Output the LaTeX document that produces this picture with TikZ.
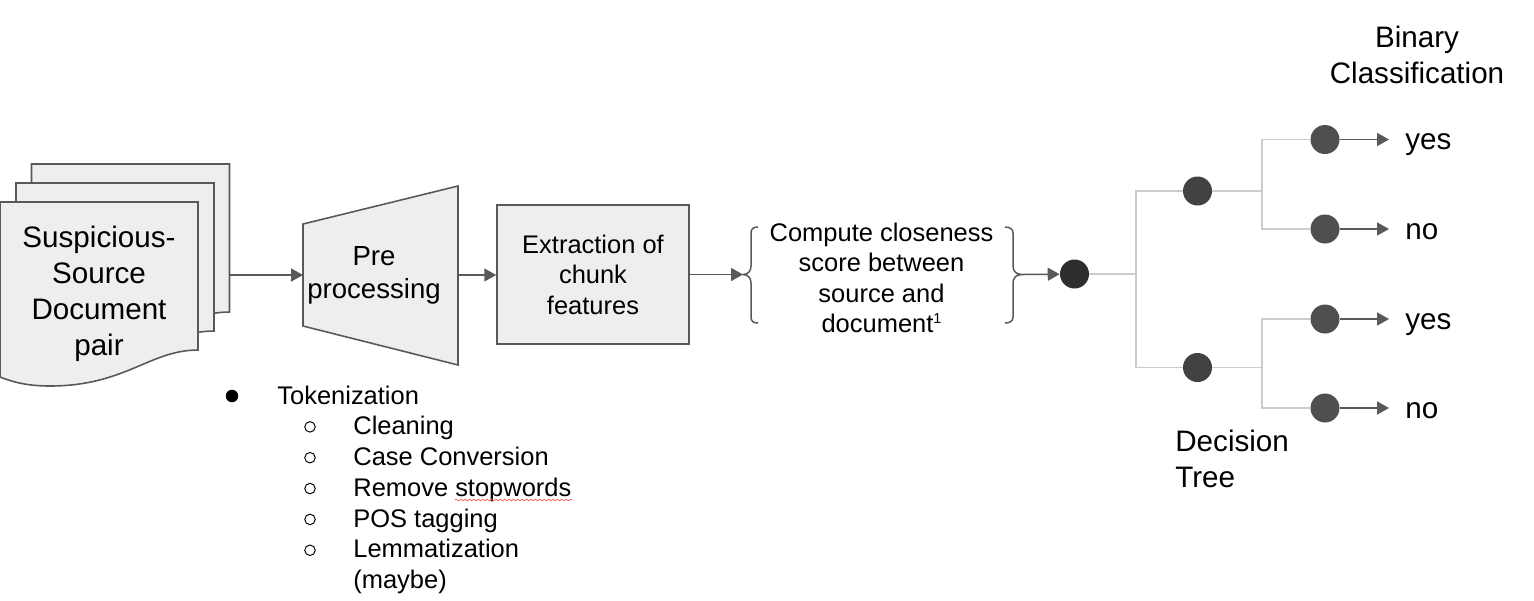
\documentclass[tikz,border=0pt]{standalone}
\usepackage{fontspec}
\setmainfont{Liberation Sans}
\usetikzlibrary{arrows.meta, positioning, decorations.pathmorphing}
\definecolor{mLine}{HTML}{595959}
\definecolor{mFill}{HTML}{EEEEEE}
\definecolor{mTree}{HTML}{CCCCCC}
\newcommand{\bigfont}{\fontsize{16.85}{20.4}\selectfont}
\newcommand{\prefont}{\fontsize{15.7}{18.7}\selectfont}
\newcommand{\smallfont}{\fontsize{14.5}{17.3}\selectfont}
\tikzset{
  shapeline/.style={draw=mLine, line width=0.9pt, fill=mFill},
  flowarrow/.style={-{Triangle[length=6.8pt, width=7.4pt]}, mLine, line width=0.85pt},
  braceline/.style={mLine, line width=0.85pt},
  treeline/.style={mTree, line width=0.9pt},
  treedot/.style={circle, inner sep=0pt, minimum size=0.58cm},
  bigtext/.style={font=\bigfont, align=center, inner sep=0pt},
  smalltext/.style={font=\smallfont, align=center, inner sep=0pt},
  listtext/.style={font=\smallfont, anchor=base west, inner sep=0pt},
}
\begin{document}
\begin{tikzpicture}[x=0.02cm, y=-0.02cm]
    \useasboundingbox (0,0) rectangle (1534,600);
    % document stack
    \foreach \px/\py in {31.5/164, 16/183, 0/202} {
      \draw[shapeline, shift={(\px,\py)}] (0,0) -- (198,0) -- (198,148)
        .. controls (150,148) and (125,184) .. (50,184)
        .. controls (30,184) and (15,181) .. (0,175) -- cycle;
    }
    \node[bigtext] (doc) at (99,294) {Suspicious-\\Source\\Document\\pair};
    \coordinate (docout) at (230,275);
    % preprocessing
    \draw[shapeline] (303,224) -- (458,186) -- (458,365) -- (303,326) -- cycle;
    \node[font=\prefont, align=center, inner sep=0pt] (pre) at (374,275) {Pre\\processing};
    \coordinate (prein) at (303,275);
    \coordinate (preout) at (458,275);
    % chunk features
    \node[shapeline, smalltext, minimum width=3.84cm, minimum height=2.78cm] (chunk) at (593,274.5) {Extraction of\\chunk\\features};
    % closeness
    \node[smalltext] (score) at (881.5,278) {Compute closeness\\score between\\source and\\document\raisebox{0.7ex}{\fontsize{8.2}{8.2}\selectfont 1}};
    \coordinate (bracein) at (743,274.5);
    \coordinate (braceout) at (1022,274.5);
    \draw[braceline] (758,227) .. controls (753,227) and (751,229) .. (751,233) -- (751,266)
      .. controls (751,271) and (748,274.5) .. (bracein)
      .. controls (748,274.5) and (751,278) .. (751,283) -- (751,317) .. controls (751,321) and (753,323) .. (758,323);
    \draw[braceline] (1005,227) .. controls (1010,227) and (1013,229) .. (1013,233) -- (1013,266)
      .. controls (1013,271) and (1016,274.5) .. (braceout)
      .. controls (1016,274.5) and (1013,278) .. (1013,283) -- (1013,317) .. controls (1013,321) and (1010,323) .. (1005,323);
    % flow
    \draw[flowarrow] (docout) -- (prein);
    \draw[flowarrow] (preout) -- (chunk.west |- preout);
    \draw[flowarrow] (chunk.east |- bracein) -- (bracein);
    % tree
    \node[treedot, fill=black!82] (root) at (1074.5,274) {};
    \draw[flowarrow] (braceout) -- (root);
    \node[treedot, fill=black!74] (upper) at (1197.5,191) {};
    \node[treedot, fill=black!74] (lower) at (1197.5,367.5) {};
    \foreach \nm/\lbl/\ly in {leafa/yes/139.5, leafb/no/229, leafc/yes/319, leafd/no/408} {
      \node[treedot, fill=black!69] (\nm) at (1325,\ly) {};
      \node[font=\bigfont, anchor=base west, inner sep=0pt] (\nm txt) at (1405,\ly+10) {\lbl};
      \draw[flowarrow, shorten >=9.1pt] (\nm) -- (\nm txt.west |- \nm);
    }
    \coordinate (rootjoin) at (1136,274);
    \coordinate (upjoin) at (1262,191);
    \coordinate (lowjoin) at (1262,367.5);
    \draw[treeline] (upper) -- (rootjoin |- upper) -- (rootjoin |- lower) -- (lower);
    \draw[treeline] (root) -- (rootjoin);
    \draw[treeline] (leafa) -- (upjoin |- leafa) -- (upjoin |- leafb) -- (leafb);
    \draw[treeline] (upper) -- (upjoin);
    \draw[treeline] (leafc) -- (lowjoin |- leafc) -- (lowjoin |- leafd) -- (leafd);
    \draw[treeline] (lower) -- (lowjoin);
    % tree labels
    \node[bigtext] (binary) at (1417,55) {Binary\\Classification};
    \node[bigtext, align=left, anchor=west] (tree) at (1175,459) {Decision\\Tree};
    % list
    \node[circle, fill=black, inner sep=0pt, minimum size=0.25cm] (bullet) at (232,396) {};
    \node[listtext] (token) at (277,404) {Tokenization};
    \foreach \lbl [count=\i] in {Cleaning, Case Conversion, Remove stopwords, POS tagging, Lemmatization} {
      \node[listtext] (item\i) at (353,404+30.75*\i) {\lbl};
      \node[circle, draw=black, line width=0.55pt, inner sep=0pt, minimum size=0.21cm] (ring\i) at (310,396+30.85*\i) {};
    }
    \node[listtext] (maybe) at (353,588) {(maybe)};
    \draw[red!70!white, line width=0.35pt, decorate, decoration={snake, amplitude=0.5pt, segment length=2.5pt}] (455,500) -- (572,500);
\end{tikzpicture}
\end{document}
